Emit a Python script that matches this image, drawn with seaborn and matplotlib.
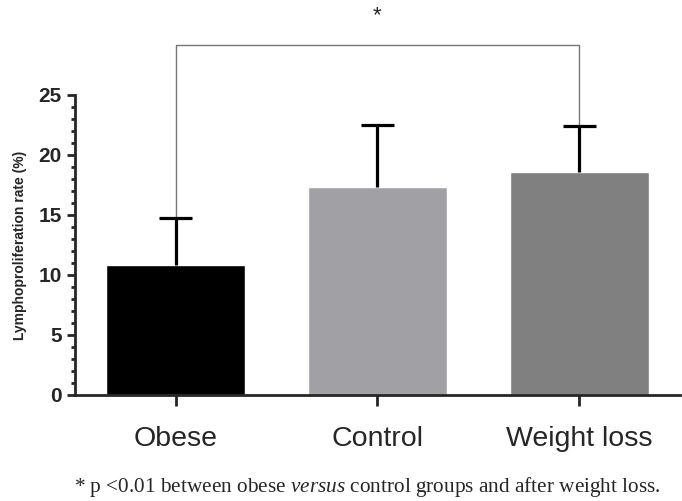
import matplotlib
matplotlib.use("Agg")
import matplotlib.pyplot as plt
import seaborn as sns
import pandas as pd
import numpy as np
from matplotlib.ticker import MultipleLocator

# data
groups = ["Obese", "Control", "Weight loss"]
means = [10.8, 17.3, 18.6]
sd = [3.95, 5.2, 3.8]
colors = ["#000000", "#a1a1a5", "#808080"]

sns.set_style("ticks")
plt.rcParams['font.family'] = ['Liberation Sans', 'DejaVu Sans']
plt.rcParams['mathtext.fontset'] = 'custom'
plt.rcParams['mathtext.rm'] = 'Liberation Serif'
plt.rcParams['mathtext.it'] = 'Liberation Serif:italic'

df = pd.DataFrame({"group": groups, "mean": means})

fig = plt.figure(figsize=(6.82, 5.01), dpi=100)
ax = fig.add_axes([0.110, 0.2116, 0.887, 0.5988])

sns.barplot(data=df, x="group", y="mean", hue="group", palette=colors,
            width=0.69, errorbar=None, legend=False, ax=ax, saturation=1)

# upper error bars only
xpos = np.arange(len(groups))
tops = np.array(means) + np.array(sd)
ax.vlines(xpos, means, tops, color="black", lw=2.3, zorder=3)
ax.hlines(tops, xpos - 0.082, xpos + 0.082, color="black", lw=2.3, zorder=3)

ax.set_ylim(0, 25)
ax.set_xlim(-0.5, 2.5)
ax.yaxis.set_major_locator(MultipleLocator(5))
ax.yaxis.set_minor_locator(MultipleLocator(1))
ax.tick_params(axis="y", which="major", length=6, width=2, labelsize=15)
ax.tick_params(axis="y", which="minor", length=3, width=2)
ax.tick_params(axis="x", which="major", length=8, width=2, labelsize=20.5, pad=14)
for lbl in ax.get_yticklabels():
    lbl.set_fontweight("bold")
ax.set_xlabel("")
ax.set_ylabel("Lymphoproliferation rate (%)", fontsize=10, fontweight="bold", labelpad=8)
sns.despine(ax=ax)
ax.spines["left"].set_linewidth(2)
ax.spines["bottom"].set_linewidth(2)

# significance bracket
y_br = 29.2
ax.plot([0, 0, 2, 2], [tops[0], y_br, y_br, tops[2]], color="#777777", lw=1,
        clip_on=False, zorder=1)
ax.text(1, 31.6, "*", ha="center", va="center", fontsize=16, clip_on=False)

fig.text(0.538, 0.027,
         "* p <0.01 between obese $\\it{versus}$ control groups and after weight loss.",
         family="Liberation Serif", fontsize=15.3, ha="center", va="center")

fig.savefig("out.png", dpi=100)
